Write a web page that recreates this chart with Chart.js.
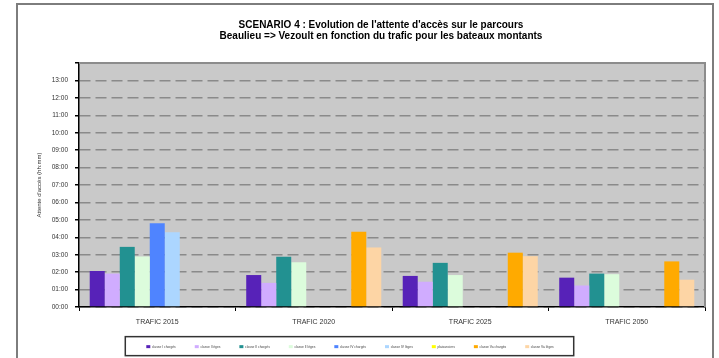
<!DOCTYPE html>
<html>
<head>
<meta charset="utf-8">
<script src="https://cdn.jsdelivr.net/npm/chart.js@4"></script>
<style>
  body { margin: 0; background: #fff; }
</style>
</head>
<body>
<canvas id="canvas" width="719" height="358"></canvas>
<script>
// attente en minutes
const categories = ['TRAFIC 2015', 'TRAFIC 2020', 'TRAFIC 2025', 'TRAFIC 2050']
const classe1Charges = [124, 110, 107, 101]
const classe1Leges = [115, 83, 87, 74]
const classe2Charges = [207, 173, 152, 115]
const classe2Leges = [174, 154, 110, 113]
const classe4Charges = [288, null, null, null]
const classe4Leges = [257, null, null, null]
const plaisanciers = [null, null, null, null]
const classe5aCharges = [null, 259, 187, 157]
const classe5aLeges = [null, 205, 175, 94]
const titleLines = [
  "SCENARIO 4 : Evolution de l'attente d'accès sur le parcours",
  "Beaulieu => Vezoult en fonction du trafic pour les bateaux montants"
]

const hhmm = v => String(Math.floor(v / 60)).padStart(2, '0') + ':' + String(v % 60).padStart(2, '0')

const series = [
  ['classe I chargés', classe1Charges, '#5722b8'],
  ['classe I lèges', classe1Leges, '#d0acff'],
  ['classe II chargés', classe2Charges, '#229191'],
  ['classe II lèges', classe2Leges, '#dcfcdc'],
  ['classe IV chargés', classe4Charges, '#4f84ff'],
  ['classe IV lèges', classe4Leges, '#acd6ff'],
  ['plaisanciers', plaisanciers, '#ffff00'],
  ['classe Va chargés', classe5aCharges, '#ffaa00'],
  ['classe Va lèges', classe5aLeges, '#fdd5a5'],
]

const decor = {
  id: 'decor',
  afterLayout(chart) {
    // légende un peu décalée vers la gauche comme sur l'original
    chart.legend.left -= 11
    chart.legend.right -= 11
  },
  beforeDraw(chart) {
    const {ctx, chartArea: a} = chart
    ctx.save()
    ctx.fillStyle = '#fff'
    ctx.fillRect(0, 0, chart.width, chart.height)
    ctx.fillStyle = '#c9c9c9'
    ctx.fillRect(a.left, a.top, a.right - a.left, a.bottom - a.top)
    ctx.restore()
  },
  afterDraw(chart) {
    const {ctx, chartArea: a} = chart
    ctx.save()
    // cadre général
    ctx.strokeStyle = '#7d7d7d'
    ctx.lineWidth = 2
    ctx.strokeRect(17, 4, 696, 400)
    // bord haut / droit de la zone de tracé
    ctx.strokeStyle = '#8c8c8c'
    ctx.beginPath()
    ctx.moveTo(a.left, a.top)
    ctx.lineTo(a.right, a.top)
    ctx.lineTo(a.right, a.bottom)
    ctx.stroke()
    // titre
    ctx.fillStyle = '#000'
    ctx.font = 'bold 10px "Liberation Sans", Arial, sans-serif'
    ctx.textAlign = 'center'
    ctx.textBaseline = 'middle'
    ctx.fillText(titleLines[0], 381, 25)
    ctx.fillText(titleLines[1], 381, 36)
    // cadre de la légende
    const hb = chart.legend.legendHitBoxes
    if (hb.length) {
      const l = Math.min(...hb.map(h => h.left)) - 21
      const r = Math.max(...hb.map(h => h.left + h.width)) + 20
      const t = hb[0].top + hb[0].height / 2 - 10
      ctx.strokeStyle = '#333'
      ctx.lineWidth = 1.5
      ctx.strokeRect(l, t, r - l, 19)
    }
    ctx.restore()
  }
}

const data = {
  labels: categories,
  datasets: series.map(([label, values, color]) => ({
    label: label,
    data: values,
    backgroundColor: color,
    borderWidth: 0,
    categoryPercentage: 0.863,
    barPercentage: 1,
  })),
}

const config = {
  type: 'bar',
  data: data,
  plugins: [decor],
  options: {
    responsive: false,
    devicePixelRatio: 1,
    animation: false,
    layout: { padding: { left: 17, right: 14, top: 63, bottom: 0 } },
    plugins: {
      title: { display: false },
      tooltip: { enabled: false },
      legend: {
        position: 'bottom',
        maxHeight: 32,
        labels: {
          font: { size: 3.3, family: '"Liberation Sans", Arial, sans-serif' },
          color: '#444',
          boxWidth: 4,
          boxHeight: 3,
          padding: 19,
        },
      },
    },
    scales: {
      x: {
        afterFit: s => { s.height = 19 },
        grid: { display: true, offset: true, drawOnChartArea: false, tickLength: 4, tickColor: '#000' },
        border: { color: '#000', width: 1.5 },
        ticks: { padding: 7, color: '#333', font: { size: 7, family: '"Liberation Sans", Arial, sans-serif' } },
      },
      y: {
        min: 0,
        max: 840,
        afterFit: s => { s.width = 62 },
        afterBuildTicks: s => { s.ticks = s.ticks.filter(t => t.value % 60 === 0) },
        title: {
          display: true,
          text: "Attente d'accès (hh:mm)",
          color: '#333',
          font: { size: 6, family: '"Liberation Sans", Arial, sans-serif' },
          padding: { top: 19, bottom: 0 },
        },
        grid: { color: '#8a8a8a', lineWidth: 1.5, tickLength: 4, tickColor: '#000', tickBorderDash: [] },
        border: { color: '#000', width: 1.5, dash: [11, 5] },
        ticks: {
          stepSize: 60,
          padding: 7,
          color: '#333',
          font: { size: 6.5, family: '"Liberation Sans", Arial, sans-serif' },
          callback: v => (v >= 840 ? '' : hhmm(v)),
        },
      },
    },
  },
}

const canvas = document.getElementById('canvas')
const chart = new Chart(canvas, config)
</script>
</body>
</html>
